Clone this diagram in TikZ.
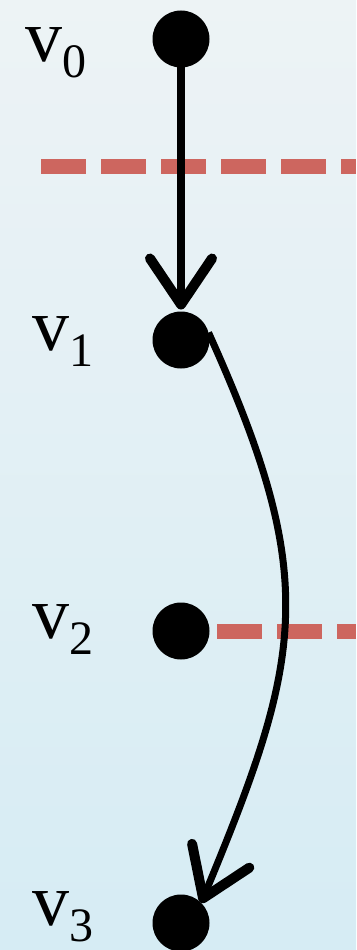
\documentclass[tikz,border=0pt]{standalone}
\usepackage{fontspec}
\setmainfont{Liberation Serif}
\usetikzlibrary{arrows.meta}
\definecolor{bgtop}{RGB}{237,243,245}
\definecolor{bgmid}{RGB}{244,249,250}
\definecolor{bgbot}{RGB}{214,236,244}
\definecolor{cutred}{RGB}{205,102,95}
\newcommand{\vlab}[1]{\fontsize{74}{74}\selectfont v\raisebox{-16pt}{\fontsize{48}{48}\selectfont #1}}
\begin{document}
\begin{tikzpicture}[x=1pt, y=-1pt,
    dot/.style={circle, fill=black, inner sep=0pt, outer sep=0pt, minimum size=57pt},
    lab/.style={anchor=base west, inner sep=0pt},
    edge/.style={line width=7.5pt, -{Straight Barb[length=46pt, width=62pt, line width=10pt, round]}},
    cut/.style={cutred, line width=15pt, dash pattern=on 45pt off 15pt}]
  % background
  \shade[top color=bgtop, middle color=bgmid, bottom color=bgbot] (0,0) rectangle (356,950);
  \useasboundingbox (0,0) rectangle (356,950);

  % vertices
  \node[dot] (v0) at (181,39)  {};
  \node[dot] (v1) at (181,340) {};
  \node[dot] (v2) at (181,631) {};
  \node[dot] (v3) at (181,923) {};
  \node[lab] (lv0) at (25,62)  {\vlab{0}};
  \node[lab] (lv1) at (32,350) {\vlab{1}};
  \node[lab] (lv2) at (32,638) {\vlab{2}};
  \node[lab] (lv3) at (32,925) {\vlab{3}};

  % cuts
  \draw[cut] (41,166) -- (356,166);
  \draw[cut] (217,631) -- (356,631);

  % edges
  \draw[edge, shorten >=2pt] (v0.center) -- (v1);
  \draw[edge, line width=7pt] (v1.15) .. controls +(111,246) and +(103,-248) .. (v3.45);
\end{tikzpicture}
\end{document}
